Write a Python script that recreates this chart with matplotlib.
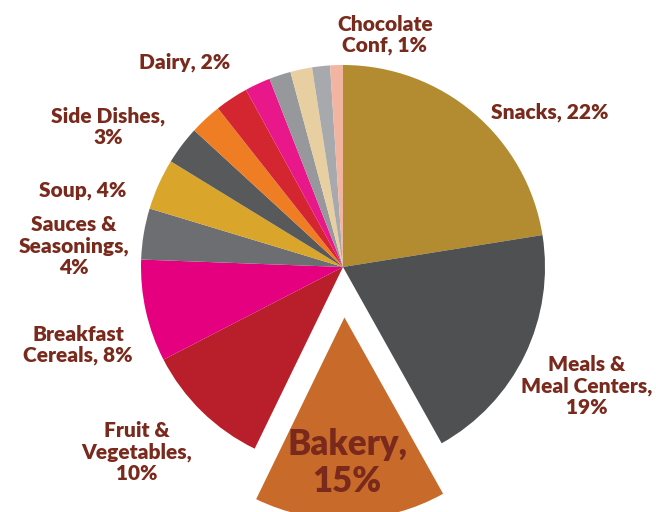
import matplotlib
matplotlib.use("Agg")
import matplotlib.pyplot as plt

plt.rcParams['font.family'] = ['Lato', 'DejaVu Sans']

# category shares, clockwise from 12 o'clock; unnamed slices carry no label
categories = ['Snacks', 'Meals &\nMeal Centers', 'Bakery', 'Fruit &\nVegetables',
              'Breakfast\nCereals', 'Sauces &\nSeasonings', 'Soup', 'Side Dishes',
              '', '', 'Dairy', '', '', '', 'Chocolate\nConf']
shares = [22, 19, 15, 10, 8, 4, 4, 3, 2.5, 2.6, 2, 1.7, 1.7, 1.4, 1]
colors = ['#b38b30', '#4e5052', '#c86a2a', '#b81f2b', '#e4007f', '#6d6e71',
          '#d9a52b', '#58595b', '#ee7d23', '#d32630', '#e8178a', '#96989b',
          '#e8cfa1', '#a7a9ac', '#f1b5a1']
explode = [0, 0, 0.25, 0, 0, 0, 0, 0, 0, 0, 0, 0, 0, 0, 0]

# where each label sits (pixels from top-left) and how it breaks
label_pos = {
    'Snacks': (550, 112, ' '),
    'Meals &\nMeal Centers': (587, 386, '\n'),
    'Bakery': (347, 463, '\n'),
    'Fruit &\nVegetables': (137, 452, '\n'),
    'Breakfast\nCereals': (78, 345, ' '),
    'Sauces &\nSeasonings': (74, 246, '\n'),
    'Soup': (83, 191, ' '),
    'Side Dishes': (108, 127, '\n'),
    'Dairy': (185, 62, ' '),
    'Chocolate\nConf': (385, 35, ' '),
}

W, H = 656, 512
cx, cy, R = 343, 267, 202

fig = plt.figure(figsize=(W / 100, H / 100), dpi=100)
ax = fig.add_axes([0, 0, 1, 1])
ax.pie(shares, colors=colors, explode=explode, startangle=90, counterclock=False,
       radius=1, wedgeprops=dict(linewidth=0))
ax.set_xlim(-cx / R, (W - cx) / R)
ax.set_ylim((cy - H) / R, cy / R)
ax.set_aspect('equal')
ax.axis('off')

text_color = '#7a2a1c'
for name, share in zip(categories, shares):
    if not name:
        continue
    x, y, sep = label_pos[name]
    size = 25 if name == 'Bakery' else 15
    ax.text(x / W, 1 - y / H, f'{name},{sep}{share:g}%', transform=ax.transAxes,
            ha='center', va='center', fontsize=size, fontweight='heavy',
            color=text_color, linespacing=1.15)

fig.savefig('out.png', dpi=100)
